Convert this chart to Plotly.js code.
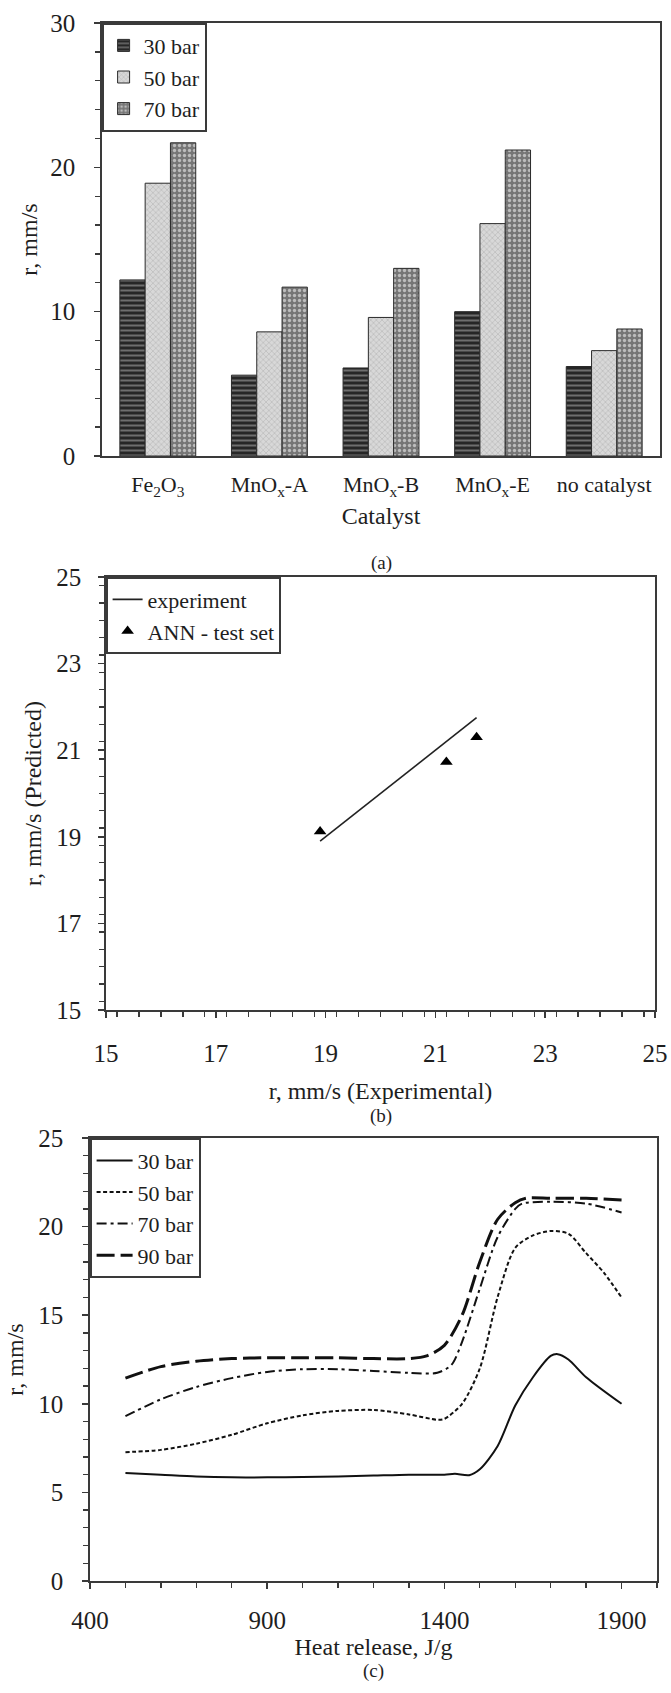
<!DOCTYPE html>
<html>
<head>
<meta charset="utf-8">
<script src="https://cdn.plot.ly/plotly-3.0.1.min.js"></script>
<style>html,body{margin:0;padding:0;background:#fff;}#chart{width:671px;height:1693px;}</style>
</head>
<body>
<div id="chart"></div>
<script>
// ---- Panel (a): burning rate by catalyst ----
const catalysts = ['Fe<sub>2</sub>O<sub>3</sub>', 'MnO<sub>x</sub>-A', 'MnO<sub>x</sub>-B', 'MnO<sub>x</sub>-E', 'no catalyst'];
const rate30 = [12.2, 5.6, 6.1, 10.0, 6.2];
const rate50 = [18.9, 8.6, 9.6, 16.1, 7.3];
const rate70 = [21.7, 11.7, 13.0, 21.2, 8.8];

// ---- Panel (b): ANN prediction vs experiment ----
const expX = [18.9, 21.75];
const expY = [18.9, 21.75];
const annX = [18.9, 21.2, 21.75];
const annY = [19.12, 20.73, 21.3];

// ---- Panel (c): rate vs heat release ----
const heat30 = [500, 600, 700, 800, 900, 1000, 1100, 1200, 1300, 1400, 1430, 1470, 1500, 1550, 1600, 1650, 1700, 1720, 1750, 1800, 1900];
const r30 = [6.1, 6.0, 5.9, 5.85, 5.85, 5.87, 5.9, 5.95, 6.0, 6.0, 6.05, 5.97, 6.3, 7.6, 9.9, 11.5, 12.7, 12.8, 12.5, 11.5, 10.0];
const heat50 = [500, 600, 700, 800, 900, 1000, 1100, 1200, 1300, 1380, 1400, 1450, 1500, 1550, 1600, 1650, 1700, 1750, 1800, 1850, 1900];
const r50 = [7.27, 7.4, 7.75, 8.25, 8.9, 9.35, 9.6, 9.65, 9.4, 9.1, 9.15, 10.0, 12.0, 16.0, 18.8, 19.5, 19.75, 19.6, 18.5, 17.4, 16.0];
const heat70 = [500, 600, 700, 800, 900, 1000, 1100, 1200, 1300, 1380, 1420, 1450, 1500, 1550, 1600, 1620, 1700, 1800, 1900];
const r70 = [9.3, 10.25, 10.95, 11.45, 11.8, 11.95, 11.95, 11.85, 11.75, 11.75, 12.2, 13.5, 16.5, 19.4, 21.0, 21.3, 21.4, 21.3, 20.8];
const heat90 = [500, 600, 700, 800, 900, 1000, 1100, 1200, 1300, 1350, 1400, 1450, 1500, 1550, 1600, 1630, 1700, 1800, 1900];
const r90 = [11.45, 12.1, 12.4, 12.55, 12.6, 12.6, 12.6, 12.55, 12.55, 12.7, 13.3, 15.0, 18.0, 20.4, 21.35, 21.6, 21.6, 21.6, 21.5];

const W = 671, H = 1693;
const FONT = 'Liberation Serif';
const AX = '#3a3a3a';
const TXT = '#1e1e1e';
const px = v => v / W;
const py = v => 1 - v / H;

const barLine = {color: '#2a2a2a', width: 1};
const traces = [
  {type: 'bar', x: catalysts, y: rate30, name: '30 bar', xaxis: 'x', yaxis: 'y', legend: 'legend',
   marker: {color: '#2b2b2b', line: barLine, pattern: {shape: '-', fgcolor: '#6e6e6e', bgcolor: '#262626', size: 5, solidity: 0.4}}},
  {type: 'bar', x: catalysts, y: rate50, name: '50 bar', xaxis: 'x', yaxis: 'y', legend: 'legend',
   marker: {color: '#d2d2d2', line: barLine, pattern: {shape: 'x', fgcolor: '#b8b8b8', bgcolor: '#d8d8d8', size: 4, solidity: 0.3}}},
  {type: 'bar', x: catalysts, y: rate70, name: '70 bar', xaxis: 'x', yaxis: 'y', legend: 'legend',
   marker: {color: '#7c7c7c', line: barLine, pattern: {shape: '.', fgcolor: '#bdbdbd', bgcolor: '#767676', size: 5, solidity: 0.35}}},

  {type: 'scatter', mode: 'lines', x: expX, y: expY, name: 'experiment', xaxis: 'x2', yaxis: 'y2', legend: 'legend2',
   line: {color: '#222', width: 1.6}},
  {type: 'scatter', mode: 'markers', x: annX, y: annY, name: 'ANN - test set', xaxis: 'x2', yaxis: 'y2', legend: 'legend2',
   marker: {symbol: 'triangle-up', size: 11, color: '#000'}},

  {type: 'scatter', mode: 'lines', x: heat30, y: r30, name: '30 bar', xaxis: 'x3', yaxis: 'y3', legend: 'legend3',
   line: {color: '#111', width: 2, shape: 'spline', smoothing: 0.8}},
  {type: 'scatter', mode: 'lines', x: heat50, y: r50, name: '50 bar', xaxis: 'x3', yaxis: 'y3', legend: 'legend3',
   line: {color: '#111', width: 2, dash: '4px,2.5px', shape: 'spline', smoothing: 0.8}},
  {type: 'scatter', mode: 'lines', x: heat70, y: r70, name: '70 bar', xaxis: 'x3', yaxis: 'y3', legend: 'legend3',
   line: {color: '#111', width: 2, dash: '10px,4px,3px,4px', shape: 'spline', smoothing: 0.8}},
  {type: 'scatter', mode: 'lines', x: heat90, y: r90, name: '90 bar', xaxis: 'x3', yaxis: 'y3', legend: 'legend3',
   line: {color: '#111', width: 3, dash: '18px,6px', shape: 'spline', smoothing: 0.8}}
];

const tickFont = {family: FONT, size: 25, color: TXT};
const titleFont = {family: FONT, size: 24, color: TXT};
const legFont = {family: FONT, size: 22, color: TXT};
const capFont = {family: FONT, size: 19, color: TXT};
const baseAxis = {showgrid: false, zeroline: false, showline: true, linecolor: AX, linewidth: 1.8, mirror: true,
  ticks: 'outside', tickcolor: AX, tickwidth: 1.5, ticklen: 6, tickfont: tickFont, ticklabeloverflow: 'allow'};
const minorTicks = d => ({dtick: d, ticklen: 5, tickcolor: AX, tickwidth: 1.3, ticks: 'outside'});

const layout = {
  width: W, height: H,
  margin: {l: 0, r: 0, t: 0, b: 0},
  paper_bgcolor: '#fff', plot_bgcolor: '#fff',
  font: {family: FONT, color: TXT},
  barmode: 'group', bargap: 0.32, bargroupgap: 0,
  xaxis: Object.assign({}, baseAxis, {domain: [px(102), px(660)], anchor: 'y', ticks: '',
    tickfont: {family: FONT, size: 22, color: TXT}, ticklabelstandoff: 8,
    title: {text: 'Catalyst', font: titleFont, standoff: 8}}),
  yaxis: Object.assign({}, baseAxis, {domain: [py(456), py(23)], anchor: 'x', range: [0, 30], dtick: 10,
    minor: minorTicks(2), ticklabelstandoff: 14,
    title: {text: 'r, mm/s', font: titleFont, standoff: 6}}),
  xaxis2: Object.assign({}, baseAxis, {domain: [px(106), px(655)], anchor: 'y2', range: [15, 25], dtick: 2, tick0: 15,
    minor: minorTicks(0.4), ticklabelstandoff: 14,
    title: {text: 'r, mm/s (Experimental)', font: titleFont, standoff: 16}}),
  yaxis2: Object.assign({}, baseAxis, {domain: [py(1010), py(577)], anchor: 'x2', range: [15, 25], dtick: 2, tick0: 15,
    minor: minorTicks(0.4), ticklabelstandoff: 12,
    title: {text: 'r, mm/s (Predicted)', font: titleFont, standoff: 8}}),
  xaxis3: Object.assign({}, baseAxis, {domain: [px(90), px(657)], anchor: 'y3', range: [400, 2000], dtick: 500, tick0: 400,
    minor: minorTicks(100), ticklabelstandoff: 10,
    title: {text: 'Heat release, J/g', font: titleFont, standoff: 1}}),
  yaxis3: Object.assign({}, baseAxis, {domain: [py(1581), py(1138)], anchor: 'x3', range: [0, 25], dtick: 5,
    minor: minorTicks(1), ticklabelstandoff: 14,
    title: {text: 'r, mm/s', font: titleFont, standoff: 8}}),
  legend: {x: px(102), y: py(23), xanchor: 'left', yanchor: 'top', bgcolor: '#fff', bordercolor: AX, borderwidth: 1.6,
    font: legFont, itemwidth: 30, tracegroupgap: 0},
  legend2: {x: px(106), y: py(577), xanchor: 'left', yanchor: 'top', bgcolor: '#fff', bordercolor: AX, borderwidth: 1.6,
    font: legFont, itemwidth: 30},
  legend3: {x: px(90), y: py(1138), xanchor: 'left', yanchor: 'top', bgcolor: '#fff', bordercolor: AX, borderwidth: 1.6,
    font: legFont, itemwidth: 36},
  showlegend: true,
  annotations: [
    {text: '(a)', x: px(381), y: py(550), xref: 'paper', yref: 'paper', showarrow: false, font: capFont},
    {text: '(b)', x: px(381), y: py(1116), xref: 'paper', yref: 'paper', showarrow: false, font: capFont},
    {text: '(c)', x: px(373), y: py(1684), xref: 'paper', yref: 'paper', showarrow: false, font: capFont}
  ]
};

Plotly.newPlot('chart', traces, layout, {displayModeBar: false, staticPlot: true});
</script>
</body>
</html>
